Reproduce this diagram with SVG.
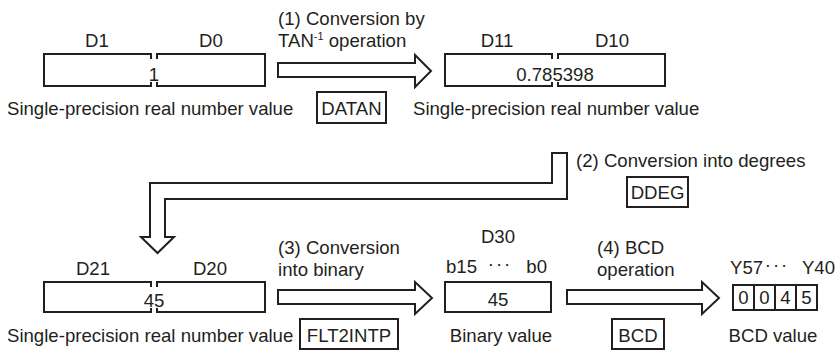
<svg xmlns="http://www.w3.org/2000/svg" width="837" height="351" viewBox="0 0 837 351">
<style>
text{font-family:"Liberation Sans",Arial,sans-serif;font-size:18.6px;fill:#231f20}
.m{text-anchor:middle}
.e{text-anchor:end}
.ln{fill:none;stroke:#231f20;stroke-width:2}
.bx{fill:#fff;stroke:#231f20;stroke-width:2}
</style>
<rect width="837" height="351" fill="#fff"/>
<g id="connectors">
<path class="bx" d="M278,63 H415 V55 L431,71 L415,87 V77 H278 Z"/>
<path class="bx" d="M552,153 H567 V199 H165 V237 H174 L157.5,253 L141,237 H150 V183 H552 Z"/>
<path class="bx" d="M278,290 H415 V282 L432,298 L415,314 V304 H278 Z"/>
<path class="bx" d="M567,290 H702 V282 L719,298 L702,314 V304 H567 Z"/>
<text x="278" y="25">(1) Conversion by</text>
<text x="278" y="47">TAN<tspan font-size="11" dy="-7">-1</tspan><tspan dy="7"> operation</tspan></text>
<text x="576" y="167">(2) Conversion into degrees</text>
<text x="278" y="254">(3) Conversion</text>
<text x="278" y="276">into binary</text>
<text x="597" y="254">(4) BCD</text>
<text x="597" y="276">operation</text>
</g>
<g id="src">
<text class="m" x="97" y="47">D1</text>
<text class="m" x="211" y="47">D0</text>
<path class="ln" d="M151,59 V54 H44 V86 H151 V82 M157,59 V54 H265 V86 H157 V82"/>
<text class="m" x="154" y="81">1</text>
<text x="7" y="115">Single-precision real number value</text>
</g>
<g id="datan">
<rect class="ln" x="317" y="92" width="69" height="31"/>
<text class="m" x="351.5" y="115">DATAN</text>
</g>
<g id="tanres">
<text class="m" x="497" y="47">D11</text>
<text class="m" x="612" y="47">D10</text>
<path class="ln" d="M552,59 V54 H445 V86 H552 V82 M558,59 V54 H665 V86 H558 V82"/>
<text class="m" x="555" y="81">0.785398</text>
<text x="413" y="115">Single-precision real number value</text>
</g>
<g id="ddeg">
<rect class="ln" x="627" y="177" width="61" height="30"/>
<text class="m" x="657.5" y="199">DDEG</text>
</g>
<g id="degres">
<text class="m" x="93" y="275">D21</text>
<text class="m" x="210" y="275">D20</text>
<path class="ln" d="M151,287 V282 H44 V312 H151 V308 M157,287 V282 H265 V312 H157 V308"/>
<text class="m" x="154" y="307">45</text>
<text x="7" y="342">Single-precision real number value</text>
</g>
<g id="flt2intp">
<rect class="ln" x="300" y="319" width="98" height="30"/>
<text class="m" x="349" y="342">FLT2INTP</text>
</g>
<g id="binres">
<text class="m" x="498" y="243">D30</text>
<text x="446" y="273">b15</text>
<text class="m" x="500" y="270" letter-spacing="2">···</text>
<text class="e" x="547" y="273">b0</text>
<rect class="ln" x="445" y="282" width="106" height="30"/>
<text class="m" x="498" y="306">45</text>
<text class="m" x="501" y="342">Binary value</text>
</g>
<g id="bcd">
<rect class="ln" x="612" y="319" width="52" height="30"/>
<text class="m" x="638" y="342">BCD</text>
</g>
<g id="bcdres">
<text x="730" y="274">Y57</text>
<text class="m" x="777" y="271" letter-spacing="2">···</text>
<text class="e" x="835" y="274">Y40</text>
<path class="ln" d="M733,285 H817 V310 H733 Z M754,285 V310 M775,285 V310 M796,285 V310"/>
<text class="m" x="743.5" y="304">0</text>
<text class="m" x="764.5" y="304">0</text>
<text class="m" x="785.5" y="304">4</text>
<text class="m" x="806.5" y="304">5</text>
<text class="m" x="773" y="342">BCD value</text>
</g>
</svg>
